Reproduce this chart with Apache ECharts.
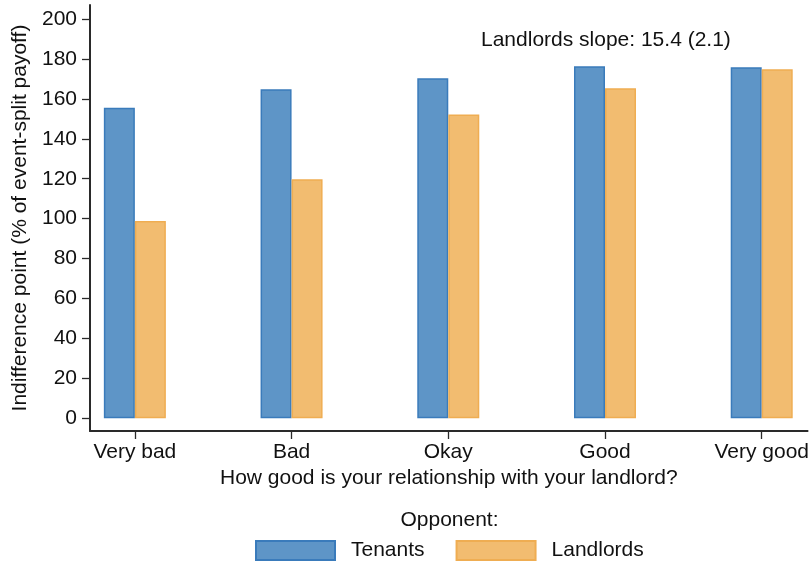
<!DOCTYPE html>
<html>
<head>
<meta charset="utf-8">
<script src="https://cdn.jsdelivr.net/npm/echarts@6/dist/echarts.min.js"></script>
<style>
html,body{margin:0;padding:0;background:#fff;}
#chart{width:812px;height:565px;}
</style>
</head>
<body>
<div id="chart"></div>
<script>
const categories = ['Very bad', 'Bad', 'Okay', 'Good', 'Very good'];
const tenants = [155.6, 164.8, 170.3, 176.3, 175.8];
const landlords = [98.8, 119.7, 152.1, 165.3, 174.8];
const yTicks = [0, 20, 40, 60, 80, 100, 120, 140, 160, 180, 200];
const catPositions = [0, 1, 2, 3, 4];
const seriesNames = ['Tenants', 'Landlords'];
const annotation = 'Landlords slope: 15.4 (2.1)';
const legendTitle = 'Opponent:';
const xName = 'How good is your relationship with your landlord?';
const yName = 'Indifference point (% of event-split payoff)';

const FONT = '"Liberation Sans", Arial, Helvetica, sans-serif';
const FS = 21;
const chart = echarts.init(document.getElementById('chart'), null, {renderer: 'canvas'});

const option = {
  backgroundColor: '#ffffff',
  animation: false,
  textStyle: {fontFamily: FONT, color: '#111'},
  title: [
    {text: annotation, left: 481, top: 30, padding: 0, textStyle: {fontFamily: FONT, fontSize: FS, fontWeight: 'normal', color: '#111'}},
    {text: legendTitle, left: 449.5, textAlign: 'center', top: 510, padding: 0, textStyle: {fontFamily: FONT, fontSize: FS, fontWeight: 'normal', color: '#111'}}
  ],
  legend: {
    left: 255, top: 540, padding: 0,
    itemWidth: 79, itemHeight: 19, itemGap: 31,
    icon: 'rect',
    textStyle: {fontFamily: FONT, fontSize: FS, color: '#111', padding: [0, 0, 0, 11]},
    data: seriesNames
  },
  grid: {left: 90, right: 2, top: 5, bottom: 134, containLabel: false},
  xAxis: {
    type: 'value', min: -0.2862, max: 4.2925,
    name: xName, nameLocation: 'middle', nameGap: 31,
    nameTextStyle: {fontFamily: FONT, fontSize: FS, color: '#111'},
    axisLine: {show: true, onZero: false, lineStyle: {color: '#2a2a2a', width: 2}},
    axisTick: {show: true, length: 8, customValues: catPositions, lineStyle: {color: '#2a2a2a', width: 1.3}},
    axisLabel: {customValues: catPositions, margin: 11, fontFamily: FONT, fontSize: FS, color: '#111',
      formatter: v => categories[Math.round(v)]},
    splitLine: {show: false}
  },
  yAxis: {
    type: 'value', min: -6.36, max: 207.0,
    name: yName, nameLocation: 'middle', nameGap: 55, nameRotate: 90,
    nameTextStyle: {fontFamily: FONT, fontSize: FS, color: '#111'},
    axisLine: {show: true, onZero: false, lineStyle: {color: '#2a2a2a', width: 2}},
    axisTick: {show: true, length: 8, customValues: yTicks, lineStyle: {color: '#2a2a2a', width: 1.3}},
    axisLabel: {customValues: yTicks, margin: 13, fontFamily: FONT, fontSize: FS, color: '#111'},
    splitLine: {show: false}
  },
  series: [
    {
      name: seriesNames[0], type: 'bar', barWidth: 31, barGap: '0%',
      itemStyle: {color: '#5e95c7', borderColor: '#3a7bbb', borderWidth: 1.5},
      data: tenants.map((v, i) => [catPositions[i], v])
    },
    {
      name: seriesNames[1], type: 'bar', barWidth: 31, barGap: '0%',
      itemStyle: {color: '#f2bc70', borderColor: '#efad52', borderWidth: 1.5},
      data: landlords.map((v, i) => [catPositions[i], v])
    }
  ]
};
chart.setOption(option);
</script>
</body>
</html>
